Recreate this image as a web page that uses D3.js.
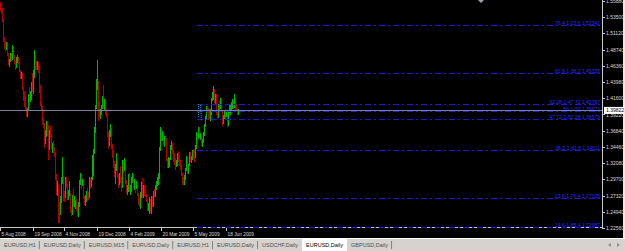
<!DOCTYPE html>
<html>
<head>
<meta charset="utf-8">
<script src="https://cdn.jsdelivr.net/npm/d3@7"></script>
<style>
  html, body { margin: 0; padding: 0; background: #000; }
  svg { display: block; font-family: "Liberation Sans", Arial, sans-serif; }
</style>
</head>
<body>
<div id="chart"></div>
<script>
// EURUSD daily bars, 5 Aug 2008 .. 7 Jul 2009 (one bar per pixel)
const opens = [
  1.5565,1.5460,1.5420,1.5320,1.5020,1.4980,1.4920,1.4950,1.4810,1.4680,
  1.4720,1.4800,1.4730,1.4900,1.4760,1.4690,1.4620,1.4740,1.4750,1.4680,
  1.4560,1.4500,1.4520,1.4300,1.4250,1.4150,1.4010,1.3970,1.3990,1.4200,
  1.4170,1.4220,1.4390,1.4360,1.4480,1.4790,1.4620,1.4610,1.4640,1.4620,
  1.4260,1.4100,1.4030,1.3800,1.3780,1.3510,1.3610,1.3660,1.3650,1.3410,
  1.3640,1.3590,1.3440,1.3450,1.3390,1.3350,1.3000,1.2800,1.2860,1.2600,
  1.2490,1.2660,1.2940,1.2960,1.2740,1.2710,1.2970,1.2890,1.2720,1.2730,
  1.2760,1.2500,1.2440,1.2720,1.2590,1.2620,1.2640,1.2520,1.2450,1.2570,
  1.2910,1.3030,1.2950,1.2960,1.2690,1.2600,1.2680,1.2750,1.2720,1.2710,
  1.2950,1.2930,1.2980,1.3310,1.3350,1.3700,1.4010,1.4380,1.4400,1.3950,
  1.3930,1.3940,1.4040,1.4150,1.4090,1.4100,1.3970,1.3920,1.3620,1.3490,
  1.3670,1.3700,1.3450,1.3330,1.3180,1.3050,1.3140,1.3250,1.3020,1.2940,
  1.3020,1.2960,1.2850,1.3170,1.3140,1.3220,1.2930,1.2800,1.2820,1.3050,
  1.2810,1.2880,1.2940,1.3010,1.2870,1.2970,1.2850,1.2870,1.2760,1.2620,
  1.2570,1.2750,1.2910,1.2720,1.2850,1.2800,1.2730,1.2670,1.2590,1.2600,
  1.2660,1.2500,1.2660,1.2620,1.2780,1.2750,1.2860,1.2920,1.2980,1.3030,
  1.3390,1.3700,1.3580,1.3620,1.3510,1.3570,1.3550,1.3280,1.3180,1.3240,
  1.3280,1.3460,1.3490,1.3380,1.3320,1.3250,1.3160,1.3210,1.3330,1.3290,
  1.3220,1.3160,1.3040,1.2940,1.2930,1.2990,1.3120,1.3290,1.3140,1.3170,
  1.3300,1.3230,1.3280,1.3380,1.3360,1.3300,1.3440,1.3640,1.3580,1.3730,
  1.3600,1.3610,1.3500,1.3510,1.3620,1.3770,1.3870,1.4020,1.4000,1.3930,
  1.3860,1.3940,1.4150,1.4160,1.4230,1.4110,1.4190,1.3950,1.3880,1.4060,
  1.4020,1.4140,1.3970,1.3790,1.3910,1.3980,1.3900,1.3940,1.3760,1.3970,
  1.3980,1.4040,1.4080,1.4090,1.4030,1.4160,1.4030,1.3980,1.3940
];
const highs = [
  1.5575,1.5490,1.5480,1.5330,1.5060,1.5000,1.4990,1.4990,1.4830,1.4740,
  1.4820,1.4830,1.4940,1.4910,1.4790,1.4710,1.4760,1.4790,1.4760,1.4690,
  1.4580,1.4550,1.4530,1.4330,1.4270,1.4200,1.4030,1.4020,1.4230,1.4330,
  1.4260,1.4400,1.4530,1.4580,1.4867,1.4800,1.4700,1.4700,1.4690,1.4640,
  1.4350,1.4120,1.4050,1.3880,1.3800,1.3690,1.3820,1.3820,1.3770,1.3700,
  1.3760,1.3620,1.3510,1.3530,1.3440,1.3370,1.3050,1.2940,1.2880,1.2640,
  1.2720,1.3000,1.3300,1.3020,1.2800,1.3010,1.3000,1.2900,1.2810,1.2950,
  1.2770,1.2560,1.2740,1.2830,1.2720,1.2660,1.2680,1.2600,1.2640,1.2960,
  1.3070,1.3040,1.2980,1.2960,1.2730,1.2740,1.2800,1.2840,1.2790,1.3000,
  1.2990,1.3010,1.3330,1.3420,1.3740,1.4060,1.4450,1.4719,1.4410,1.4120,
  1.4000,1.4060,1.4200,1.4360,1.4150,1.4160,1.4000,1.3940,1.3670,1.3690,
  1.3780,1.3720,1.3490,1.3400,1.3240,1.3190,1.3360,1.3260,1.3050,1.3070,
  1.3160,1.3000,1.3250,1.3250,1.3290,1.3230,1.2960,1.2890,1.3050,1.3070,
  1.2890,1.3000,1.3070,1.3050,1.2980,1.2990,1.2950,1.2880,1.2770,1.2700,
  1.2780,1.2930,1.2990,1.2880,1.2880,1.2880,1.2760,1.2680,1.2630,1.2710,
  1.2680,1.2720,1.2730,1.2800,1.2830,1.2890,1.2950,1.3010,1.3060,1.3450,
  1.3738,1.3720,1.3680,1.3650,1.3610,1.3600,1.3570,1.3290,1.3300,1.3290,
  1.3480,1.3530,1.3500,1.3400,1.3350,1.3280,1.3260,1.3350,1.3390,1.3330,
  1.3260,1.3200,1.3060,1.3000,1.3030,1.3140,1.3310,1.3300,1.3200,1.3370,
  1.3370,1.3310,1.3400,1.3410,1.3410,1.3480,1.3660,1.3650,1.3740,1.3740,
  1.3650,1.3640,1.3560,1.3660,1.3780,1.3900,1.4050,1.4040,1.4020,1.4000,
  1.4000,1.4160,1.4250,1.4338,1.4300,1.4230,1.4220,1.3960,1.4080,1.4120,
  1.4170,1.4160,1.3990,1.3920,1.3990,1.4010,1.3990,1.3950,1.3990,1.4060,
  1.4070,1.4110,1.4150,1.4150,1.4220,1.4170,1.4070,1.4020,1.4000
];
const lows = [
  1.5436,1.5390,1.5280,1.4990,1.4880,1.4860,1.4870,1.4780,1.4650,1.4620,
  1.4690,1.4700,1.4720,1.4730,1.4660,1.4580,1.4600,1.4680,1.4660,1.4540,
  1.4450,1.4450,1.4280,1.4120,1.4030,1.3980,1.3880,1.3880,1.3970,1.4050,
  1.4100,1.4140,1.4250,1.4220,1.4460,1.4580,1.4570,1.4570,1.4530,1.4240,
  1.4040,1.3990,1.3770,1.3720,1.3430,1.3490,1.3590,1.3600,1.3260,1.3400,
  1.3580,1.3420,1.3350,1.3350,1.3300,1.2960,1.2740,1.2730,1.2330,1.2330,
  1.2440,1.2620,1.2900,1.2650,1.2640,1.2700,1.2850,1.2670,1.2660,1.2720,
  1.2470,1.2430,1.2440,1.2560,1.2570,1.2530,1.2500,1.2430,1.2424,1.2560,
  1.2880,1.2830,1.2870,1.2680,1.2590,1.2580,1.2640,1.2670,1.2660,1.2700,
  1.2830,1.2860,1.2960,1.3020,1.3340,1.3650,1.4000,1.4280,1.3820,1.3890,
  1.3860,1.3910,1.4000,1.4030,1.3980,1.3920,1.3880,1.3590,1.3410,1.3460,
  1.3590,1.3420,1.3290,1.3140,1.3000,1.2900,1.3100,1.2990,1.2840,1.2890,
  1.2920,1.2780,1.2840,1.3070,1.3090,1.2900,1.2770,1.2740,1.2790,1.2800,
  1.2740,1.2780,1.2920,1.2840,1.2820,1.2770,1.2830,1.2730,1.2600,1.2560,
  1.2540,1.2690,1.2700,1.2700,1.2720,1.2710,1.2640,1.2510,1.2500,1.2456,
  1.2480,1.2460,1.2560,1.2570,1.2710,1.2710,1.2820,1.2870,1.2880,1.2980,
  1.3380,1.3530,1.3540,1.3470,1.3450,1.3490,1.3240,1.3130,1.3130,1.3150,
  1.3250,1.3400,1.3340,1.3230,1.3180,1.3110,1.3150,1.3170,1.3230,1.3160,
  1.3110,1.3020,1.2890,1.2880,1.2890,1.2960,1.3100,1.3050,1.3050,1.3160,
  1.3220,1.3210,1.3250,1.3290,1.3230,1.3280,1.3410,1.3500,1.3560,1.3570,
  1.3550,1.3460,1.3440,1.3500,1.3610,1.3740,1.3860,1.3960,1.3840,1.3850,
  1.3830,1.3920,1.4120,1.4130,1.4090,1.4080,1.3920,1.3850,1.3870,1.3970,
  1.4000,1.3960,1.3750,1.3780,1.3850,1.3850,1.3880,1.3740,1.3750,1.3940,
  1.3920,1.3980,1.4000,1.4010,1.4020,1.3990,1.3970,1.3920,1.3920
];
const closes = [
  1.5460,1.5420,1.5320,1.5020,1.4980,1.4920,1.4950,1.4810,1.4680,1.4720,
  1.4800,1.4730,1.4900,1.4760,1.4690,1.4620,1.4740,1.4750,1.4680,1.4560,
  1.4500,1.4520,1.4300,1.4250,1.4150,1.4010,1.3970,1.3990,1.4200,1.4170,
  1.4220,1.4390,1.4360,1.4480,1.4790,1.4620,1.4610,1.4640,1.4620,1.4260,
  1.4100,1.4030,1.3800,1.3780,1.3510,1.3610,1.3660,1.3650,1.3410,1.3640,
  1.3590,1.3440,1.3450,1.3390,1.3350,1.3000,1.2800,1.2860,1.2600,1.2490,
  1.2660,1.2940,1.2960,1.2740,1.2710,1.2970,1.2890,1.2720,1.2730,1.2760,
  1.2500,1.2440,1.2720,1.2590,1.2620,1.2640,1.2520,1.2450,1.2570,1.2910,
  1.3030,1.2950,1.2960,1.2690,1.2600,1.2680,1.2750,1.2720,1.2710,1.2950,
  1.2930,1.2980,1.3310,1.3350,1.3700,1.4010,1.4380,1.4400,1.3950,1.3930,
  1.3940,1.4040,1.4150,1.4090,1.4100,1.3970,1.3920,1.3620,1.3490,1.3670,
  1.3700,1.3450,1.3330,1.3180,1.3050,1.3140,1.3250,1.3020,1.2940,1.3020,
  1.2960,1.2850,1.3170,1.3140,1.3220,1.2930,1.2800,1.2820,1.3050,1.2810,
  1.2880,1.2940,1.3010,1.2870,1.2970,1.2850,1.2870,1.2760,1.2620,1.2570,
  1.2750,1.2910,1.2720,1.2850,1.2800,1.2730,1.2670,1.2590,1.2600,1.2660,
  1.2500,1.2660,1.2620,1.2780,1.2750,1.2860,1.2920,1.2980,1.3030,1.3390,
  1.3700,1.3580,1.3620,1.3510,1.3570,1.3550,1.3280,1.3180,1.3240,1.3280,
  1.3460,1.3490,1.3380,1.3320,1.3250,1.3160,1.3210,1.3330,1.3290,1.3220,
  1.3160,1.3040,1.2940,1.2930,1.2990,1.3120,1.3290,1.3140,1.3170,1.3300,
  1.3230,1.3280,1.3380,1.3360,1.3300,1.3440,1.3640,1.3580,1.3730,1.3600,
  1.3610,1.3500,1.3510,1.3620,1.3770,1.3870,1.4020,1.4000,1.3930,1.3860,
  1.3940,1.4150,1.4160,1.4230,1.4110,1.4190,1.3950,1.3880,1.4060,1.4020,
  1.4140,1.3970,1.3790,1.3910,1.3980,1.3900,1.3940,1.3760,1.3970,1.3980,
  1.4040,1.4080,1.4090,1.4030,1.4160,1.4030,1.3980,1.3940,1.3982
];
const bidPrice = 1.39822;

// price scale labels
const priceTicks = [1.22560,1.24940,1.27320,1.29700,1.32080,1.34460,1.36840,1.39220,
                    1.41600,1.43980,1.46360,1.48740,1.51120,1.53500,1.55880];

// time scale labels (bar index where each label sits)
const dateLabels = ['5 Aug 2008','19 Sep 2008','4 Nov 2008','19 Dec 2008',
                    '4 Feb 2009','20 Mar 2009','5 May 2009','18 Jun 2009'];
const dateBars = [0, 33, 64, 97, 129, 161, 193, 226];

// fibonacci levels
const fibNames = ['76.4-1-23.6','61.8-1-38.2','52.28-1-47.72','50-1-50',
                  '47.72-1-52.28','38.2-1-61.8','23.6-1-76.4','14.6-1-85.4'];
const fibPrices = [1.52341,1.45335,1.40767,1.39673,1.38579,1.34011,1.27005,1.22687];
const fibStartBar = 197;
// fibo anchor (dotted) segments
const anchorBars = [[198, 198], [200, 201]];
const anchorPrices = [[1.4076, 1.3870], [1.4060, 1.3840]];

// terminal tabs
const tabLabels = ['EURUSD,H1','EURUSD,Daily','EURUSD,M15','EURUSD,Daily','EURUSD,H1',
                   'EURUSD,Daily','USDCHF,Daily','EURUSD,Daily','GBPUSD,Daily'];
const activeTab = 7;

const W = 625, H = 251;
const plotRight = 602, plotBottom = 228, stripBottom = 238;
const upColor = '#00b400', downColor = '#b40000', fibColor = '#1818e0';

const svg = d3.select('#chart').append('svg')
    .attr('width', W)
    .attr('height', H);

const x = d3.scaleLinear().domain([0, plotRight]).range([0, plotRight]);
const y = d3.scaleLinear().domain([1.2256, 1.5588]).range([228, 1]);

function renderFrame() {
    svg.append('rect').attr('width', W).attr('height', H).attr('fill', '#000');
    // tab strip background
    svg.append('rect')
        .attr('x', 0).attr('y', stripBottom)
        .attr('width', W).attr('height', H - stripBottom)
        .attr('fill', '#d6d3ce');
    svg.append('line')
        .attr('x1', 0).attr('x2', W)
        .attr('y1', stripBottom + 0.5).attr('y2', stripBottom + 0.5)
        .attr('stroke', '#ffffff');
    // right border
    svg.append('rect')
        .attr('x', 623).attr('y', 0).attr('width', 2).attr('height', stripBottom)
        .attr('fill', '#e8e8e8');
    // axis lines
    svg.append('line')
        .attr('x1', 0).attr('x2', plotRight + 0.5)
        .attr('y1', plotBottom - 0.5).attr('y2', plotBottom - 0.5)
        .attr('stroke', '#c8c8c8');
    svg.append('line')
        .attr('x1', plotRight + 0.5).attr('x2', plotRight + 0.5)
        .attr('y1', 0).attr('y2', plotBottom)
        .attr('stroke', '#c8c8c8');
    // chart shift marker
    svg.append('path')
        .attr('d', 'M478,0 L484,0 L481,3 Z')
        .attr('fill', '#a0a0b0');
}

function renderBars() {
    svg.append('g')
        .attr('shape-rendering', 'crispEdges')
        .selectAll('rect')
        .data(d3.range(closes.length))
        .join('rect')
        .attr('x', i => x(i))
        .attr('width', 1)
        .attr('y', i => Math.round(y(highs[i])))
        .attr('height', i => Math.max(1, Math.round(y(lows[i])) - Math.round(y(highs[i]))))
        .attr('fill', i => closes[i] >= opens[i] ? upColor : downColor);
}

function renderFibo() {
    const g = svg.append('g');
    g.selectAll('line.fib')
        .data(fibPrices)
        .join('line')
        .attr('class', 'fib')
        .attr('x1', x(fibStartBar)).attr('x2', plotRight - 1)
        .attr('y1', d => Math.round(y(d)) + 0.5)
        .attr('y2', d => Math.round(y(d)) + 0.5)
        .attr('stroke', fibColor)
        .attr('stroke-width', 1)
        .attr('stroke-dasharray', '6,3,2,3');
    g.selectAll('text.fib')
        .data(fibPrices)
        .join('text')
        .attr('class', 'fib')
        .attr('x', plotRight - 2)
        .attr('y', d => Math.round(y(d)) - 0.5)
        .attr('text-anchor', 'end')
        .attr('font-size', 5)
        .attr('fill', '#2a2aff')
        .text((d, i) => fibNames[i] + ' ' + d.toFixed(5));
    g.selectAll('path.anchor')
        .data(anchorBars)
        .join('path')
        .attr('class', 'anchor')
        .attr('d', (b, i) => d3.line()([[x(b[0]) + 0.5, y(anchorPrices[i][0])],
                                         [x(b[1]) + 0.5, y(anchorPrices[i][1])]]))
        .attr('stroke', '#1aa0c8')
        .attr('stroke-dasharray', '1,1')
        .attr('fill', 'none');
}

function renderBid() {
    const yb = Math.round(y(bidPrice)) + 0.5;
    svg.append('line')
        .attr('x1', 0).attr('x2', plotRight)
        .attr('y1', yb).attr('y2', yb)
        .attr('stroke', '#74849a');
}

function renderPriceAxis() {
    const g = svg.append('g');
    g.selectAll('line')
        .data(priceTicks)
        .join('line')
        .attr('x1', plotRight).attr('x2', plotRight + 3)
        .attr('y1', d => Math.round(y(d)) + 0.5)
        .attr('y2', d => Math.round(y(d)) + 0.5)
        .attr('stroke', '#c8c8c8');
    g.selectAll('text')
        .data(priceTicks)
        .join('text')
        .attr('x', plotRight + 4)
        .attr('y', d => y(d) + 2)
        .attr('font-size', 5)
        .attr('fill', '#d8d8d8')
        .text(d => d.toFixed(5));
    // current price box
    const yb = y(bidPrice);
    g.append('rect')
        .attr('x', plotRight + 2).attr('y', yb - 3.5)
        .attr('width', 20).attr('height', 7)
        .attr('fill', '#ffffff');
    g.append('text')
        .attr('x', plotRight + 4).attr('y', yb + 2)
        .attr('font-size', 5)
        .attr('fill', '#000')
        .text(bidPrice.toFixed(5));
}

function renderTimeAxis() {
    const g = svg.append('g');
    g.selectAll('line')
        .data(dateBars)
        .join('line')
        .attr('x1', d => x(d) + 0.5).attr('x2', d => x(d) + 0.5)
        .attr('y1', plotBottom).attr('y2', plotBottom + 3)
        .attr('stroke', '#c8c8c8');
    g.selectAll('text')
        .data(dateBars)
        .join('text')
        .attr('x', d => x(d) + 1.5)
        .attr('y', 236)
        .attr('font-size', 4.8)
        .attr('fill', '#d8d8d8')
        .text((d, i) => dateLabels[i]);
}

function renderTabs() {
    const g = svg.append('g');
    let left = 0;
    tabLabels.forEach((label, i) => {
        const t = g.append('text')
            .attr('y', 247)
            .attr('font-size', 5.5)
            .attr('fill', i === activeTab ? '#000' : '#505050')
            .text(label);
        const w = t.node().getComputedTextLength();
        const tabW = w + 8;
        if (i === activeTab) {
            g.insert('rect', 'text')
                .attr('x', left).attr('y', stripBottom + 1)
                .attr('width', tabW).attr('height', H - stripBottom - 1)
                .attr('fill', '#ffffff');
        }
        t.attr('x', left + 4);
        left += tabW;
        if (i !== activeTab - 1 && i !== activeTab) {
            g.append('line')
                .attr('x1', left - 0.5).attr('x2', left - 0.5)
                .attr('y1', 241).attr('y2', 249)
                .attr('stroke', '#808080');
        }
    });
    // scroll arrows
    g.append('path').attr('d', 'M608,245 L611,243 L611,247 Z').attr('fill', '#909090');
    g.append('path').attr('d', 'M620,245 L617,243 L617,247 Z').attr('fill', '#909090');
}

renderFrame();
renderBars();
renderFibo();
renderBid();
renderPriceAxis();
renderTimeAxis();
renderTabs();
</script>
</body>
</html>
